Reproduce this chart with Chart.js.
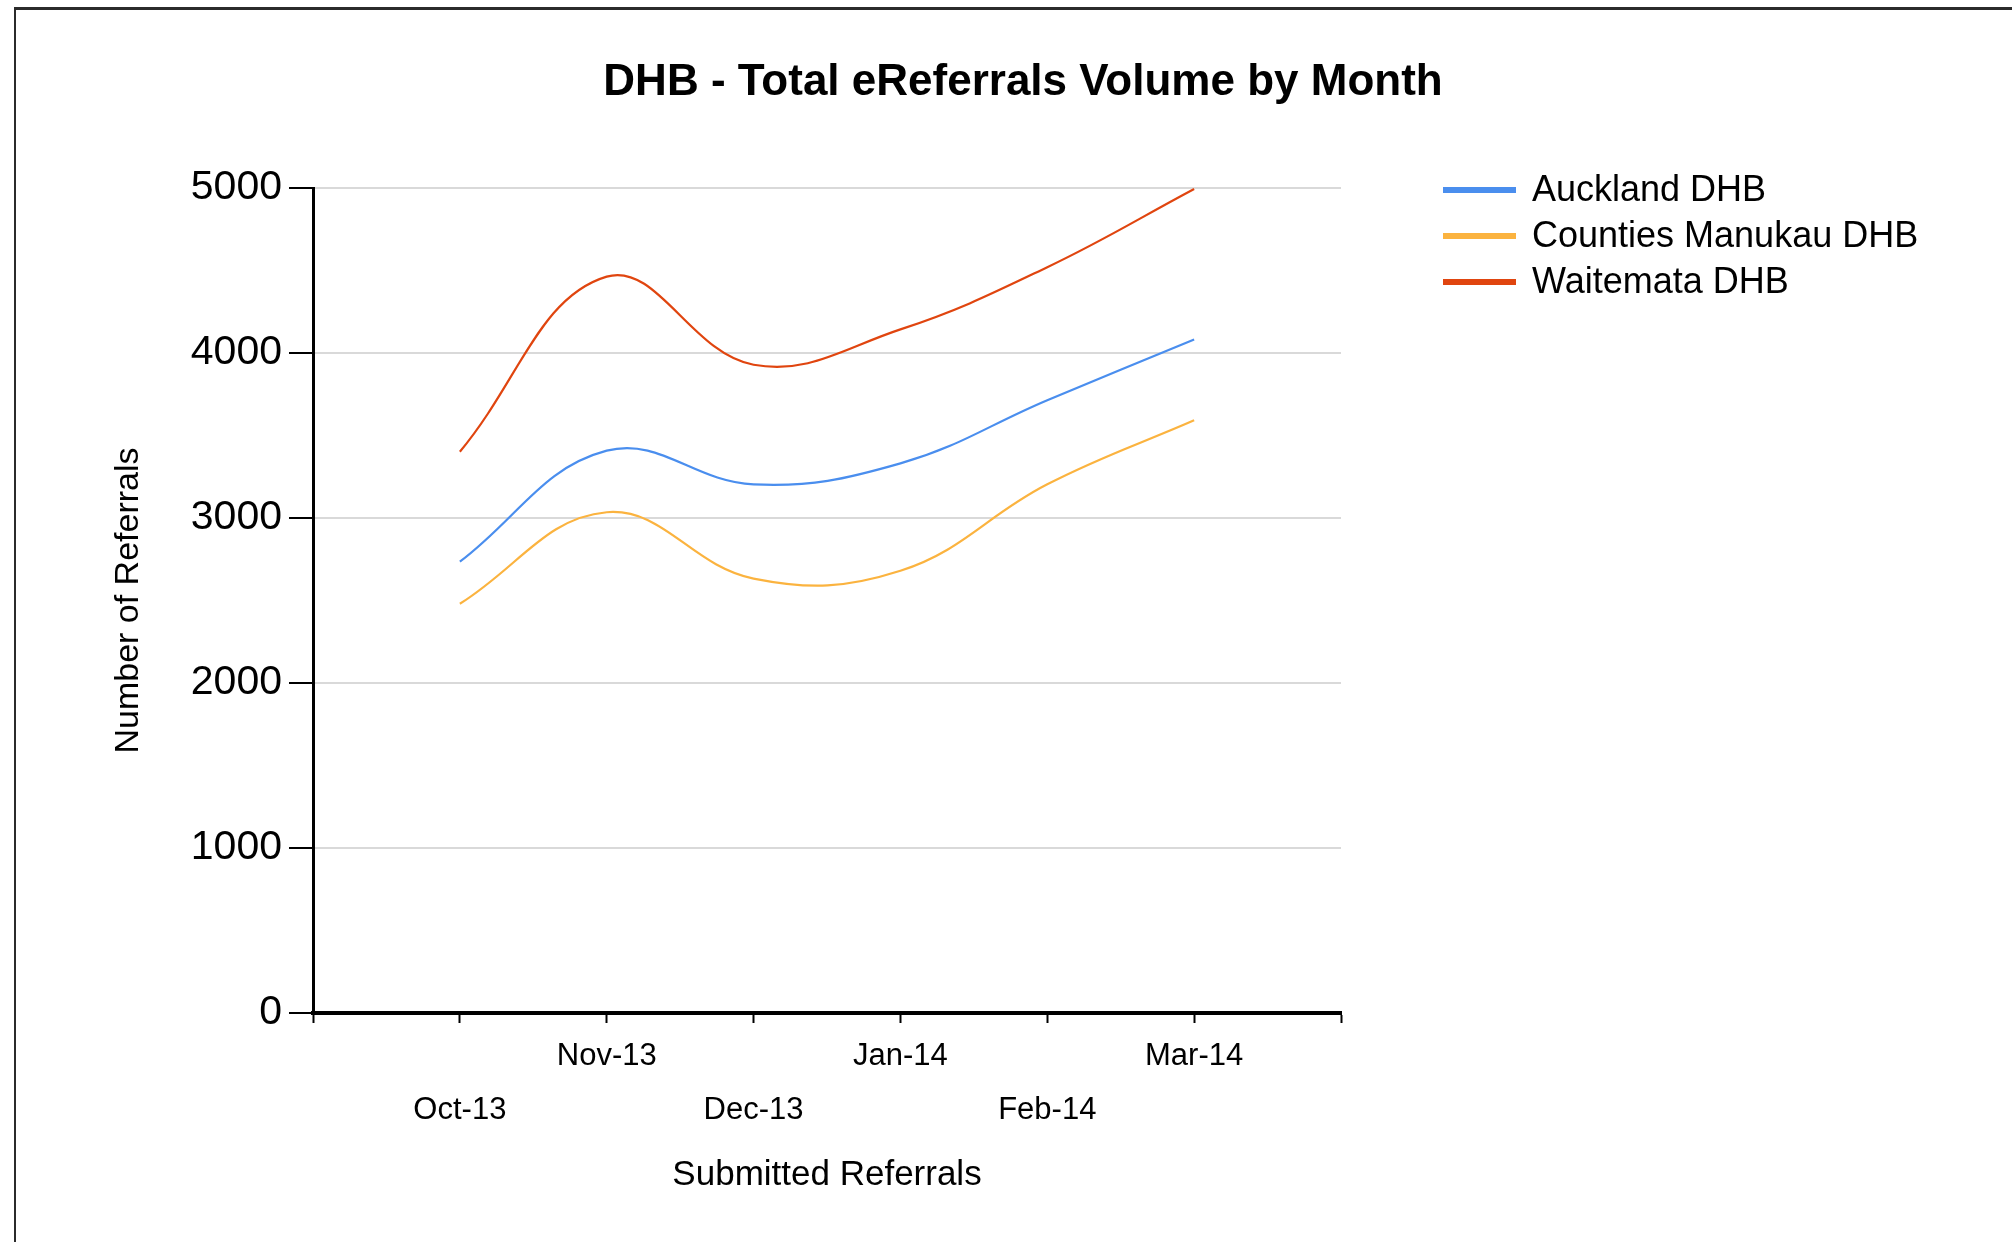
<!DOCTYPE html>
<html>
<head>
<meta charset="utf-8">
<script src="https://cdn.jsdelivr.net/npm/chart.js@4.4.1/dist/chart.umd.min.js"></script>
<style>
  html, body { margin: 0; padding: 0; background: #fff; }
  #wrap { position: relative; width: 2012px; height: 1242px; overflow: hidden; }
  #frame { position: absolute; left: 14px; top: 7px; width: 2100px; height: 1300px;
           border-top: 3px solid #2b2b2b; border-left: 2px solid #2b2b2b; }
  #chart { position: absolute; left: 0; top: 0; }
</style>
</head>
<body>
<div id="wrap">
  <div id="frame"></div>
  <canvas id="chart" width="2012" height="1242"></canvas>
</div>
<script>
const CHART_TITLE = "DHB - Total eReferrals Volume by Month";
const months = ["Oct-13", "Nov-13", "Dec-13", "Jan-14", "Feb-14", "Mar-14"];
const seriesNames = ["Auckland DHB", "Counties Manukau DHB", "Waitemata DHB"];
const seriesColors = ["#4a8eee", "#fbb33f", "#e0450f"];
const aucklandValues = [2735, 3408, 3204, 3331, 3714, 4082];
const countiesValues = [2480, 3035, 2633, 2680, 3204, 3592];
const waitemataValues = [3402, 4463, 3929, 4143, 4520, 4994];
const yTickValues = [0, 1000, 2000, 3000, 4000, 5000];

const FONT = "'Liberation Sans', Arial, sans-serif";

function toPoints(values) {
  return values.map((v, i) => ({ x: i, y: v }));
}

const allSeries = [aucklandValues, countiesValues, waitemataValues];

// title + legend drawn by hand, Chart.js title can't sit off-centre like the original
const sideLegend = {
  id: "sideLegend",
  afterDraw(chart) {
    const ctx = chart.ctx;
    ctx.save();
    ctx.fillStyle = "#000";
    ctx.textAlign = "center";
    ctx.textBaseline = "middle";
    ctx.font = `bold 44px ${FONT}`;
    ctx.fillText(CHART_TITLE, 1023, 83);

    ctx.textAlign = "left";
    ctx.font = `36px ${FONT}`;
    chart.data.datasets.forEach((ds, i) => {
      const y = 190 + i * 46;
      ctx.strokeStyle = ds.borderColor;
      ctx.lineWidth = 6;
      ctx.beginPath();
      ctx.moveTo(1443, y);
      ctx.lineTo(1516, y);
      ctx.stroke();
      ctx.fillStyle = "#000";
      ctx.fillText(ds.label, 1532, y + 1);
    });
    ctx.restore();
  },
};

new Chart(document.getElementById("chart").getContext("2d"), {
  type: "line",
  data: {
    datasets: allSeries.map((values, i) => ({
      label: seriesNames[i],
      data: toPoints(values),
      borderColor: seriesColors[i],
      backgroundColor: seriesColors[i],
      borderWidth: 2.2,
      pointRadius: 0,
      tension: 0.4,
      fill: false,
    })),
  },
  options: {
    responsive: false,
    animation: false,
    layout: { padding: { left: 20, right: 671, top: 188, bottom: 0 } },
    plugins: {
      legend: { display: false },
      title: { display: false },
      tooltip: { enabled: false },
    },
    scales: {
      x: {
        type: "linear",
        min: -1,
        max: months.length,
        afterFit(scale) { scale.height = 229; },
        afterBuildTicks(scale) {
          scale.ticks = [];
          for (let i = -1; i <= months.length; i++) scale.ticks.push({ value: i });
        },
        border: { display: true, color: "#000", width: 4 },
        grid: { drawOnChartArea: false, drawTicks: true, tickLength: 10, tickColor: "#000", tickWidth: 2 },
        ticks: {
          autoSkip: false,
          maxRotation: 0,
          minRotation: 0,
          padding: 6,
          color: "#000",
          font: { family: FONT, size: 31, lineHeight: 1.742 },
          callback(value) {
            const label = months[value];
            if (label === undefined) return "";
            return value % 2 === 1 ? [label, ""] : ["", label];
          },
        },
        title: {
          display: true,
          text: "Submitted Referrals",
          color: "#000",
          font: { family: FONT, size: 35, lineHeight: 1.2 },
          padding: { top: 0, bottom: 46 },
        },
      },
      y: {
        min: 0,
        max: 5000,
        afterFit(scale) { scale.width = 293; },
        afterBuildTicks(scale) {
          scale.ticks = yTickValues.map((v) => ({ value: v }));
        },
        border: { display: true, color: "#000", width: 3 },
        grid: { color: "#d9d9d9", lineWidth: 2, drawTicks: true, tickLength: 24, tickColor: "#000", tickWidth: 2 },
        ticks: {
          padding: 7,
          color: "#000",
          font: { family: FONT, size: 41 },
          callback: (value) => String(value),
        },
        title: {
          display: true,
          text: "Number of Referrals",
          color: "#000",
          font: { family: FONT, size: 34, lineHeight: 1.2 },
          padding: { top: 88, bottom: 0 },
        },
      },
    },
  },
  plugins: [sideLegend],
});
</script>
</body>
</html>
